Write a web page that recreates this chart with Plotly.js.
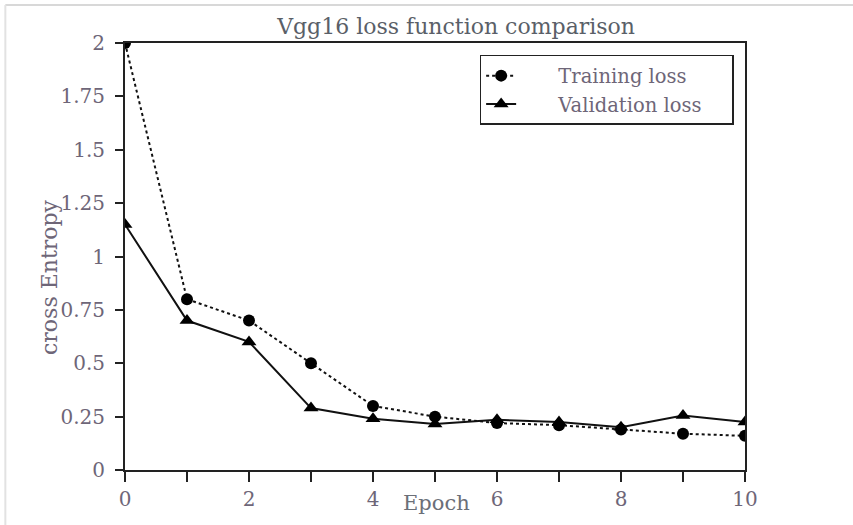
<!DOCTYPE html>
<html>
<head>
<meta charset="utf-8">
<script src="https://cdn.plot.ly/plotly-3.0.1.min.js"></script>
<style>html,body{margin:0;padding:0;background:#fff;}#chart{width:853px;height:525px;}</style>
</head>
<body>
<div id="chart"></div>
<script>
const epochs = [0, 1, 2, 3, 4, 5, 6, 7, 8, 9, 10];
const trainingLoss = [2.0, 0.8, 0.7, 0.5, 0.3, 0.25, 0.22, 0.21, 0.19, 0.17, 0.16];
const validationLoss = [1.15, 0.7, 0.6, 0.29, 0.24, 0.215, 0.235, 0.225, 0.2, 0.255, 0.225];
const seriesNames = ['Training loss', 'Validation loss'];
const xTickVals = [0, 1, 2, 3, 4, 5, 6, 7, 8, 9, 10];
const xTickText = ['0', '', '2', '', '4', '', '6', '', '8', '', '10'];
const yTickVals = [0, 0.25, 0.5, 0.75, 1, 1.25, 1.5, 1.75, 2];
const yTickText = ['0', '0.25', '0.5', '0.75', '1', '1.25', '1.5', '1.75', '2'];

const FONT = 'DejaVu Serif, Liberation Serif, serif';
const TXT = '#6e6678';
const LEAD = '\u00a0'.repeat(6);
const TRAIL = '\u00a0'.repeat(4);

const traces = [
  {
    x: epochs, y: trainingLoss, name: LEAD + seriesNames[0] + TRAIL, type: 'scatter', mode: 'lines+markers',
    line: {color: '#111', width: 2, dash: 'dot'},
    marker: {symbol: 'circle', size: 12, color: '#000'}
  },
  {
    x: epochs, y: validationLoss, name: LEAD + seriesNames[1] + TRAIL, type: 'scatter', mode: 'lines+markers',
    line: {color: '#111', width: 2},
    marker: {symbol: 'triangle-up', size: 13, color: '#000'}
  }
];

const layout = {
  width: 853, height: 525,
  margin: {l: 125, r: 108, t: 43, b: 55},
  paper_bgcolor: '#fff', plot_bgcolor: '#fff',
  font: {family: FONT, color: TXT, size: 19},
  showlegend: true,
  title: {text: 'Vgg16 loss function comparison', font: {family: FONT, size: 22, color: '#5a5f68'},
          x: 0.534, xref: 'paper', xanchor: 'center', y: 0.949, yref: 'container', yanchor: 'middle'},
  xaxis: {
    range: [0, 10], tickvals: xTickVals, ticktext: xTickText,
    ticks: 'outside', ticklen: 10, tickwidth: 2, tickcolor: '#222',
    showline: true, linecolor: '#222', linewidth: 2, mirror: true,
    showgrid: false, zeroline: false,
    tickfont: {family: FONT, size: 20, color: TXT}
  },
  yaxis: {
    range: [0, 2], tickvals: yTickVals, ticktext: yTickText,
    ticks: 'outside', ticklen: 8, tickwidth: 2, tickcolor: '#222',
    showline: true, linecolor: '#222', linewidth: 2, mirror: true,
    showgrid: false, zeroline: false, ticklabelstandoff: 6,
    tickfont: {family: FONT, size: 20, color: TXT}
  },
  legend: {
    x: 0.572, y: 0.972, xanchor: 'left', yanchor: 'top',
    bgcolor: '#fff', bordercolor: '#222', borderwidth: 1.5,
    font: {family: FONT, size: 19.5, color: TXT},
    tracegroupgap: 0
  },
  annotations: [
    {text: 'cross Entropy', xref: 'paper', yref: 'paper', x: -0.121, y: 0.452, textangle: -90,
     showarrow: false, font: {family: FONT, size: 22, color: TXT}, xanchor: 'center', yanchor: 'middle'},
    {text: 'Epoch', xref: 'paper', yref: 'paper', x: 0.503, y: -0.077,
     showarrow: false, font: {family: FONT, size: 21, color: '#6b6f78'}, xanchor: 'center', yanchor: 'middle'}
  ],
  shapes: [
    {type: 'line', xref: 'paper', yref: 'paper', x0: -0.193, x1: 1.2, y0: 1.089, y1: 1.089, line: {color: '#d8d8d8', width: 2}},
    {type: 'line', xref: 'paper', yref: 'paper', x0: -0.193, x1: -0.193, y0: 1.089, y1: -0.13, line: {color: '#e2e2e2', width: 2}}
  ]
};

Plotly.newPlot('chart', traces, layout, {displayModeBar: false, staticPlot: true});
</script>
</body>
</html>
